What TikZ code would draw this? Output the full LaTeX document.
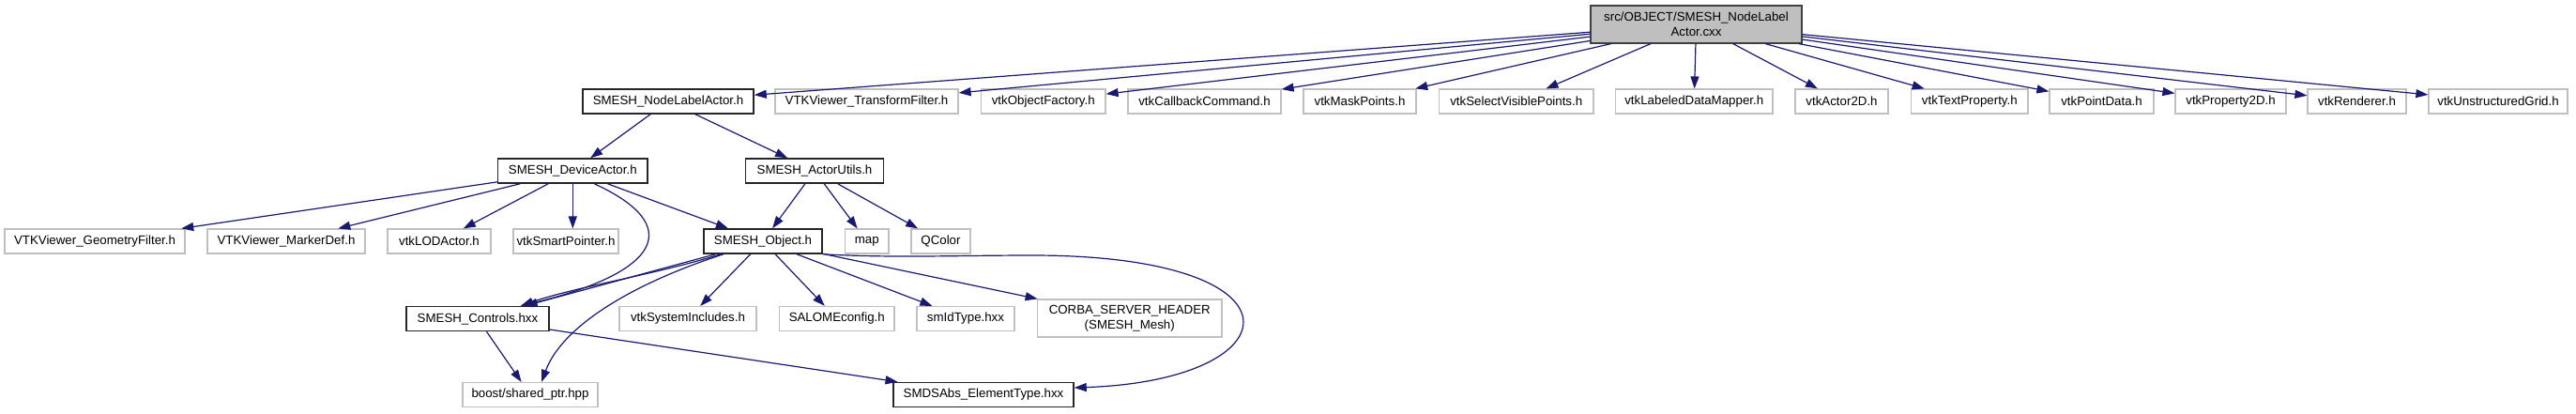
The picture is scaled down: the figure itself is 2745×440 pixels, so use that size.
\documentclass[tikz,border=0pt]{standalone}
\usepackage{fontspec}
\setmainfont{Liberation Sans}
\usepackage{tikz}
\usetikzlibrary{arrows.meta,positioning}
\usepackage{xcolor}
\definecolor{edgeblue}{RGB}{25,25,112}
\definecolor{extgray}{RGB}{191,191,191}
\definecolor{rootfill}{RGB}{191,191,191}
\definecolor{rootdraw}{RGB}{64,64,64}
\newcommand{\doxfont}{\fontsize{13.3}{15.5}\selectfont}

\begin{document}
\begin{tikzpicture}[
    x=1pt, y=-1pt,
    box/.style={rectangle, draw, minimum height=26pt, inner sep=0pt, align=center, font=\doxfont},
    ext/.style={box, draw=extgray, line width=1.2pt},
    inc/.style={box, draw=black!85, line width=1.5pt},
    src/.style={box, draw=rootdraw, fill=rootfill, line width=1.5pt, minimum height=40pt},
    dep/.style={draw=edgeblue, line width=1.2pt, -{Triangle[length=13pt,width=9pt]}}
]
    \useasboundingbox (0,0) rectangle (2745,440);

    % Source file
    \node[src, minimum width=225] (root) at (1807.5,25.75) {src/OBJECT/SMESH\_NodeLabel\\Actor.cxx};

    % Direct includes
    \node[inc, minimum width=182] (nla) at (712,108) {SMESH\_NodeLabelActor.h};
    \node[ext, minimum width=195] (tfilt) at (923.5,108) {VTKViewer\_TransformFilter.h};
    \node[ext, minimum width=132.5] (objf) at (1111.75,108) {vtkObjectFactory.h};
    \node[ext, minimum width=163] (cbc) at (1283.5,108) {vtkCallbackCommand.h};
    \node[ext, minimum width=120] (maskp) at (1449,108) {vtkMaskPoints.h};
    \node[ext, minimum width=164.5] (selvis) at (1615.75,108) {vtkSelectVisiblePoints.h};
    \node[ext, minimum width=167.5] (ldm) at (1805.25,108) {vtkLabeledDataMapper.h};
    \node[ext, minimum width=99] (act2d) at (1962.5,108) {vtkActor2D.h};
    \node[ext, minimum width=124.4] (textp) at (2098.8,108) {vtkTextProperty.h};
    \node[ext, minimum width=111] (pdata) at (2239.5,108) {vtkPointData.h};
    \node[ext, minimum width=118] (prop2d) at (2377,108) {vtkProperty2D.h};
    \node[ext, minimum width=105] (rend) at (2511.5,108) {vtkRenderer.h};
    \node[ext, minimum width=148] (ugrid) at (2662,108) {vtkUnstructuredGrid.h};

    % Actor headers
    \node[inc, minimum width=159.4] (dev) at (610.3,182) {SMESH\_DeviceActor.h};
    \node[inc, minimum width=147] (utils) at (868,182) {SMESH\_ActorUtils.h};

    % Third level
    \node[ext, minimum width=192] (geom) at (101,257) {VTKViewer\_GeometryFilter.h};
    \node[ext, minimum width=168] (mdef) at (305,257) {VTKViewer\_MarkerDef.h};
    \node[ext, minimum width=110] (lod) at (468,257) {vtkLODActor.h};
    \node[ext, minimum width=112] (sptr) at (603,257) {vtkSmartPointer.h};
    \node[inc, minimum width=126] (obj) at (813,257) {SMESH\_Object.h};
    \node[ext, minimum width=46.6] (map) at (923.7,257) {map};
    \node[ext, minimum width=63] (qcol) at (1002.5,257) {QColor};

    % Fourth level
    \node[inc, minimum width=152] (ctrl) at (509,339.5) {SMESH\_Controls.hxx};
    \node[ext, minimum width=146] (vsys) at (733,339.5) {vtkSystemIncludes.h};
    \node[ext, minimum width=122.5] (salome) at (891.75,339.5) {SALOMEconfig.h};
    \node[ext, minimum width=104] (smid) at (1029,339.5) {smIdType.hxx};
    \node[ext, minimum width=196.5, minimum height=40] (corba) at (1203.75,339) {CORBA\_SERVER\_HEADER\\(SMESH\_Mesh)};

    % Bottom
    \node[ext, minimum width=144] (boost) at (565,420.5) {boost/shared\_ptr.hpp};
    \node[inc, minimum width=192] (smds) at (1048,420.5) {SMDSAbs\_ElementType.hxx};

    % Edges
    \foreach \n in {nla,tfilt,objf,cbc,maskp,selvis,ldm,act2d,textp,pdata,prop2d,rend,ugrid}
        \draw[dep] (root) -- (\n);
    \draw[dep] (nla) -- (dev);
    \draw[dep] (nla) -- (utils);
    \foreach \n in {geom,mdef,lod,obj}
        \draw[dep] (dev) -- (\n);
    \draw[dep] (dev.south) -- (dev.south |- sptr.north);
    \draw[dep] ([xshift=23pt]dev.south) .. controls (730,240) and (705,290) .. ([xshift=46pt]ctrl.north);
    \foreach \n in {obj,map,qcol}
        \draw[dep] (utils) -- (\n);
    \draw[dep] (obj) -- (ctrl);
    \draw[dep] ([xshift=-45pt]obj.south) .. controls (700,292) and (612,306) .. ([xshift=46pt]ctrl.north);
    \draw[dep] ([xshift=-42pt]obj.south) .. controls (680,300) and (600,345) .. ([xshift=12pt]boost.north);
    \foreach \n in {vsys,salome,smid,corba}
        \draw[dep] (obj) -- (\n);
    \draw[dep] (obj.south east) .. controls (950,275) and (1020,272) .. (1100,272)
        .. controls (1400,272) and (1380,405) .. ([yshift=7.5pt]smds.east);
    \draw[dep] (ctrl) -- (boost);
    \draw[dep] (ctrl) -- (smds);
\end{tikzpicture}
\end{document}
